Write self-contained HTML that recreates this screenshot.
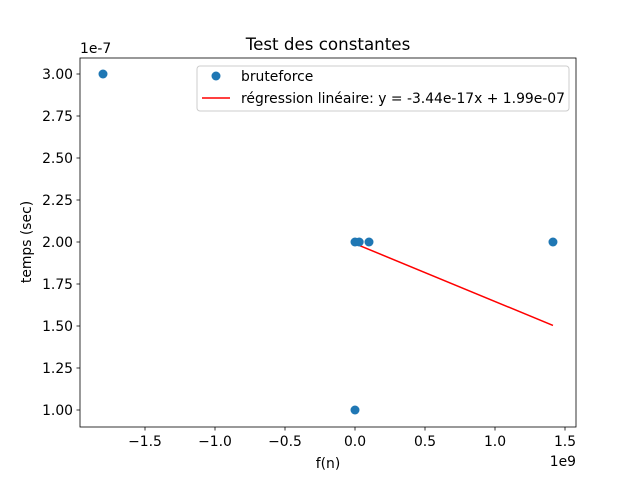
<!DOCTYPE html>
<html><head><meta charset="utf-8"><style>
body{margin:0;background:#fff;}
svg{font-family:"DejaVu Sans","Liberation Sans",sans-serif;}
</style></head><body>
<svg id="chart" width="640" height="480" viewBox="0 0 640 480">
<rect width="640" height="480" fill="#fff"/>
<text x="328" y="50" font-size="16.7" text-anchor="middle">Test des constantes</text>
<g id="ticks"></g>
<g id="marks"></g>
<rect x="80" y="58" width="496" height="369" fill="none" stroke="#000" stroke-width="0.8"/>
<text x="328" y="468" font-size="13.9" text-anchor="middle">f(n)</text>
<text x="31" y="242" font-size="13.9" text-anchor="middle" transform="rotate(-90 31 242)">temps (sec)</text>
<text x="576" y="466" font-size="13.9" text-anchor="end">1e9</text>
<text x="80" y="53" font-size="13.9">1e-7</text>
<g>
<rect x="197" y="66" width="372" height="45" rx="3" fill="#fff" fill-opacity="0.8" stroke="#ccc"/>
<circle cx="216" cy="76" r="4.5" fill="#1f77b4"/>
<text x="241" y="81" font-size="13.9">bruteforce</text>
<line x1="202" y1="98" x2="230" y2="98" stroke="red" stroke-width="1.5"/>
<text x="241" y="103" font-size="13.9">régression linéaire: y = -3.44e-17x + 1.99e-07</text>
</g>
</svg>
<script>
const xs = [-1.8, 0, 0.03, 0.1, 1.414, 0];
const ys = [3.0, 2.0, 2.0, 2.0, 2.0, 1.0];
const xTicks = [-1.5, -1.0, -0.5, 0.0, 0.5, 1.0, 1.5];
const yTicks = [1.00, 1.25, 1.50, 1.75, 2.00, 2.25, 2.50, 2.75, 3.00];
const slope = -0.344; // in 1e-7 per 1e9
const intercept = 1.99;
const regX = [0, 1.414];
const NS = "http://www.w3.org/2000/svg";
const sx = v => 355 + v * 140;
const sy = v => 410 - (v - 1.0) * 168;
const tg = document.getElementById('ticks'), mg = document.getElementById('marks');
function mk(tag, at, parent){const e=document.createElementNS(NS,tag);for(const k in at)e.setAttribute(k,at[k]);parent.appendChild(e);return e;}
xTicks.forEach(t=>{
  const l=mk('line',{x1:sx(t),x2:sx(t),y1:427,y2:430.5,stroke:'#000','stroke-width':0.8},tg);
  
  
  const tx=mk('text',{x:sx(t),y:446,'font-size':13.9,'text-anchor':'middle'},tg);
  tx.textContent=(t<0?'\u2212':'')+Math.abs(t).toFixed(1);
  
  
});
yTicks.forEach(t=>{
  const l=mk('line',{x1:76.5,x2:80,y1:sy(t),y2:sy(t),stroke:'#000','stroke-width':0.8},tg);
  
  
  const tx=mk('text',{x:73,y:sy(t)+5,'font-size':13.9,'text-anchor':'end'},tg);
  tx.textContent=t.toFixed(2);
  
  
});
const rl=mk('line',{x1:sx(regX[0]),y1:sy(intercept+slope*regX[0]),x2:sx(regX[1]),y2:sy(intercept+slope*regX[1]),stroke:'red','stroke-width':1.5},mg);


xs.forEach((x,i)=>{
  const c=mk('circle',{cx:sx(x),cy:sy(ys[i]),r:4.5,fill:'#1f77b4'},mg);
  
  
});
</script>
</body></html>
